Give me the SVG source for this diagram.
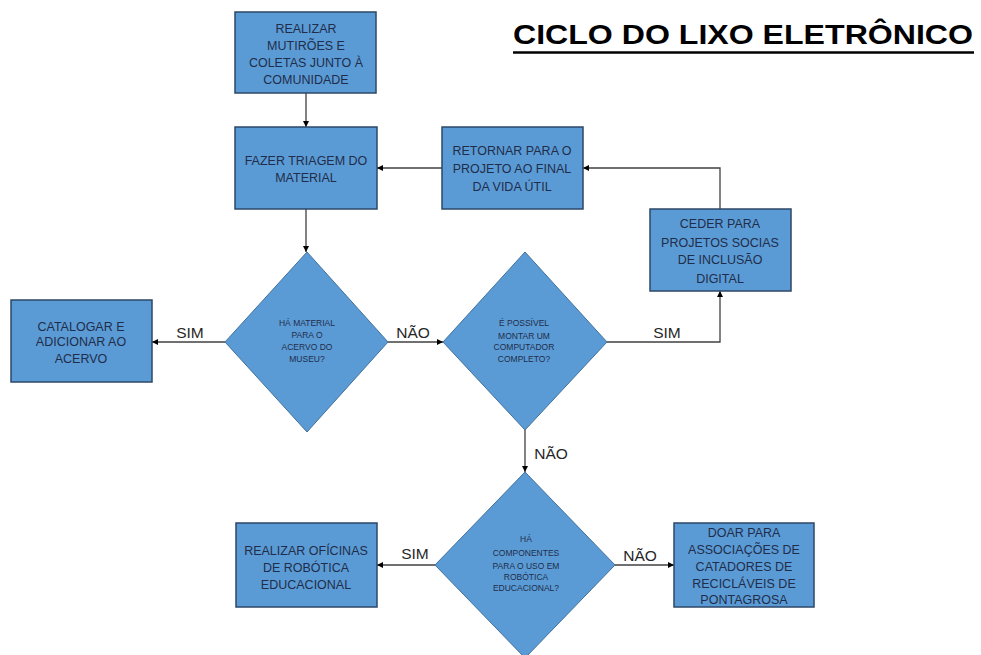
<svg xmlns="http://www.w3.org/2000/svg" width="981" height="655" viewBox="0 0 981 655">
<defs>
<style>
.box{fill:#5b9bd5;stroke:#2c4767;stroke-width:1.5}
.dia{fill:#5b9bd5;stroke:#41719c;stroke-width:1}
.bt{font-family:"Liberation Sans",Arial,sans-serif;font-size:12.5px;fill:#1f2d4a;text-anchor:middle}
.dt{font-family:"Liberation Sans",Arial,sans-serif;font-size:8.5px;fill:#1f2d4a;text-anchor:middle}
.lbl{font-family:"Liberation Sans",Arial,sans-serif;font-size:15.5px;fill:#262626;text-anchor:middle}
.con{fill:none;stroke:#404040;stroke-width:1.3}
.arr{marker-end:url(#ah)}
</style>
<marker id="ah" viewBox="0 0 10 10" refX="10" refY="5" markerWidth="6" markerHeight="6" markerUnits="userSpaceOnUse" orient="auto">
<path d="M0,0 L10,5 L0,10 z" fill="#000"/>
</marker>
</defs>
<rect width="981" height="655" fill="#fff"/>
<g id="title">
<text x="513" y="44" textLength="460" lengthAdjust="spacingAndGlyphs" style="font-family:'Liberation Sans',Arial,sans-serif;font-size:27.5px;font-weight:bold;fill:#000">CICLO DO LIXO ELETRÔNICO</text>
<line x1="513" y1="52.5" x2="974" y2="52.5" stroke="#000" stroke-width="2.5"/>
</g>
<g id="connectors">
<path class="con arr" d="M306,93 V127"/>
<path class="con arr" d="M442,168 H377"/>
<path class="con arr" d="M720,209 V168 H583"/>
<path class="con arr" d="M306,209 V252"/>
<path class="con arr" d="M225,342 H152"/>
<path class="con arr" d="M388,342 H443"/>
<path class="con arr" d="M607,342 H720 V291"/>
<path class="con arr" d="M525,430 V472"/>
<path class="con arr" d="M435,565 H377"/>
<path class="con arr" d="M615,565 H674"/>
<text class="lbl" x="190" y="338">SIM</text>
<text class="lbl" x="413" y="338">NÃO</text>
<text class="lbl" x="667" y="338">SIM</text>
<text class="lbl" x="551" y="459">NÃO</text>
<text class="lbl" x="415" y="559">SIM</text>
<text class="lbl" x="640" y="561">NÃO</text>
</g>
<g id="n-mutiroes">
<rect class="box" x="235" y="12" width="141" height="81"/>
<text class="bt" x="306" y="33">REALIZAR</text>
<text class="bt" x="306" y="50">MUTIRÕES E</text>
<text class="bt" x="306" y="67">COLETAS JUNTO À</text>
<text class="bt" x="306" y="84">COMUNIDADE</text>
</g>
<g id="n-triagem">
<rect class="box" x="235" y="127" width="142" height="82"/>
<text class="bt" x="306" y="165">FAZER TRIAGEM DO</text>
<text class="bt" x="306" y="182">MATERIAL</text>
</g>
<g id="n-retornar">
<rect class="box" x="442" y="127" width="141" height="82"/>
<text class="bt" x="512" y="155">RETORNAR PARA O</text>
<text class="bt" x="512" y="173">PROJETO AO FINAL</text>
<text class="bt" x="512" y="191">DA VIDA ÚTIL</text>
</g>
<g id="n-ceder">
<rect class="box" x="650" y="209" width="141" height="82"/>
<text class="bt" x="720" y="228">CEDER PARA</text>
<text class="bt" x="720" y="247">PROJETOS SOCIAS</text>
<text class="bt" x="720" y="264">DE INCLUSÃO</text>
<text class="bt" x="720" y="283">DIGITAL</text>
</g>
<g id="n-catalogar">
<rect class="box" x="11" y="300" width="141" height="82"/>
<text class="bt" x="81" y="331">CATALOGAR E</text>
<text class="bt" x="81" y="346">ADICIONAR AO</text>
<text class="bt" x="81" y="363">ACERVO</text>
</g>
<g id="n-museu">
<polygon class="dia" points="307,252 388,342 307,432 225,342"/>
<text class="dt" x="307" y="326">HÁ MATERIAL</text>
<text class="dt" x="307" y="338">PARA O</text>
<text class="dt" x="307" y="350">ACERVO DO</text>
<text class="dt" x="307" y="362">MUSEU?</text>
</g>
<g id="n-computador">
<polygon class="dia" points="525,252 607,342 525,430 443,342"/>
<text class="dt" x="524" y="326">É POSSÍVEL</text>
<text class="dt" x="524" y="339">MONTAR UM</text>
<text class="dt" x="524" y="350">COMPUTADOR</text>
<text class="dt" x="524" y="362">COMPLETO?</text>
</g>
<g id="n-componentes">
<polygon class="dia" points="525,472 615,565 525,658 435,565"/>
<text class="dt" x="526" y="542">HÁ</text>
<text class="dt" x="526" y="556">COMPONENTES</text>
<text class="dt" x="526" y="569">PARA O USO EM</text>
<text class="dt" x="526" y="580">ROBÓTICA</text>
<text class="dt" x="526" y="591">EDUCACIONAL?</text>
</g>
<g id="n-oficinas">
<rect class="box" x="236" y="523" width="141" height="84"/>
<text class="bt" x="306" y="555">REALIZAR OFÍCINAS</text>
<text class="bt" x="306" y="572">DE ROBÓTICA</text>
<text class="bt" x="306" y="589">EDUCACIONAL</text>
</g>
<g id="n-doar">
<rect class="box" x="674" y="523" width="140" height="84"/>
<text class="bt" x="744" y="537">DOAR PARA</text>
<text class="bt" x="744" y="554">ASSOCIAÇÕES DE</text>
<text class="bt" x="744" y="571">CATADORES DE</text>
<text class="bt" x="744" y="588">RECICLÁVEIS DE</text>
<text class="bt" x="744" y="604">PONTAGROSA</text>
</g>
</svg>
